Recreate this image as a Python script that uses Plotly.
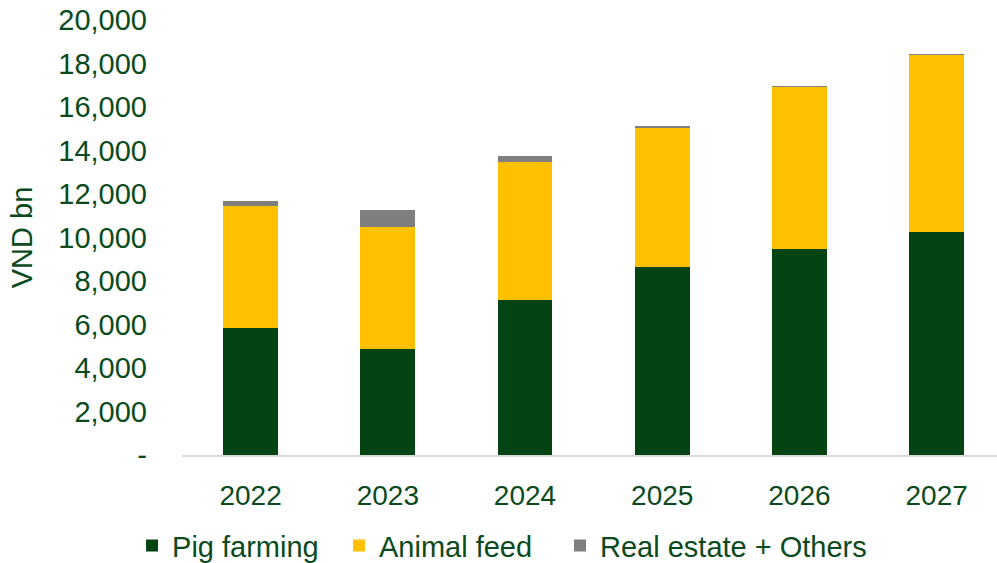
import plotly.graph_objects as go

# Revenue breakdown by segment, VND bn
years = ["2022", "2023", "2024", "2025", "2026", "2027"]
pig_farming = [5830, 4870, 7110, 8640, 9490, 10250]
animal_feed = [5620, 5610, 6360, 6440, 7430, 8150]
real_estate_others = [240, 770, 280, 50, 40, 30]

y_tick_vals = [0, 2000, 4000, 6000, 8000, 10000, 12000, 14000, 16000, 18000, 20000]
y_tick_text = ["-", "2,000", "4,000", "6,000", "8,000", "10,000", "12,000",
               "14,000", "16,000", "18,000", "20,000"]

TEXT = "#0B4A1C"
FONT = "Liberation Sans, Arial, sans-serif"

fig = go.Figure()
fig.add_bar(x=years, y=pig_farming, name="Pig farming",
            marker_color="#044414", legend="legend")
fig.add_bar(x=years, y=animal_feed, name="Animal feed",
            marker_color="#FFC000", legend="legend2")
fig.add_bar(x=years, y=real_estate_others, name="Real estate + Others",
            marker_color="#7F7F7F", legend="legend3")

fig.update_traces(marker_line_width=0)


def legend_box(x):
    # one legend box per series, laid out in a single row under the axis
    return dict(
        orientation="h",
        x=x, xanchor="left",
        y=-0.15, yanchor="top",
        xref="paper",
        font=dict(size=29, color=TEXT, family=FONT),
        bgcolor="rgba(0,0,0,0)",
    )


fig.update_layout(
    width=997,
    height=563,
    barmode="stack",
    bargap=0.6,
    plot_bgcolor="white",
    paper_bgcolor="white",
    margin=dict(l=182, r=0, t=20, b=108, autoexpand=False),
    font=dict(family=FONT, size=28, color=TEXT),
    legend=legend_box(-0.0613),
    legend2=legend_box(0.1926),
    legend3=legend_box(0.4638),
    showlegend=True,
)

fig.update_xaxes(
    type="category",
    range=[-0.5, 5.44],
    showline=True,
    linecolor="#D9D9D9",
    linewidth=2,
    showgrid=False,
    ticks="",
    ticklabelstandoff=14,
    tickfont=dict(size=28, color=TEXT),
    automargin=False,
)

fig.update_yaxes(
    range=[0, 20000],
    tickvals=y_tick_vals,
    ticktext=y_tick_text,
    showgrid=False,
    zeroline=False,
    showline=False,
    ticks="",
    ticklabelstandoff=34,
    tickfont=dict(size=29, color=TEXT),
    title=dict(text="VND bn", font=dict(size=29, color=TEXT), standoff=17),
    automargin=False,
)

fig.write_html("out.html")
